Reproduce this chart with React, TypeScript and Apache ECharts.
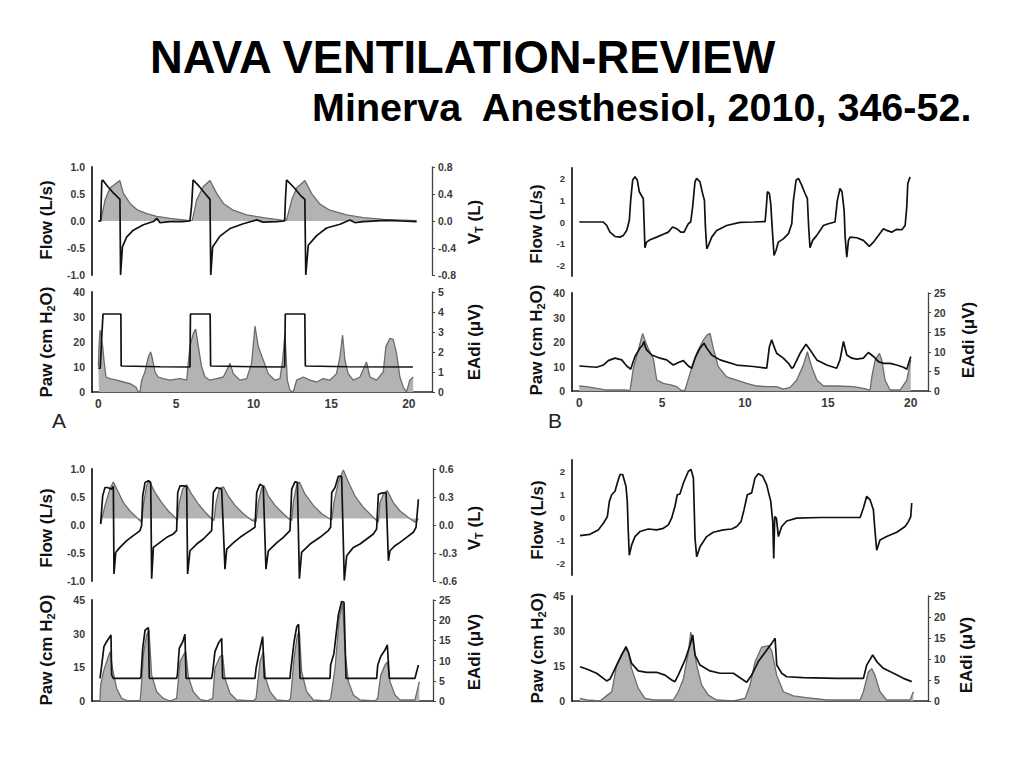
import React, { useEffect, useRef } from "react";
import * as echarts from "echarts";

type P = [number, number][];

// ---------- Panel A (time s) ----------
const aFlow: P = [[0,0],[0.15,0],[0.22,0.74],[0.28,0.76],[0.6,0.64],[1.0,0.51],[1.39,0.40],[1.43,-1.0],[1.55,-0.48],[1.82,-0.3],[2.25,-0.17],[2.9,-0.07],[3.54,-0.01],[3.76,0.05],[3.97,-0.03],[4.6,-0.01],[5.4,-0.01],[5.9,0],[6.01,0.3],[6.1,0.76],[6.5,0.64],[6.9,0.5],[7.19,0.40],[7.24,-1.0],[7.36,-0.48],[7.83,-0.28],[8.48,-0.14],[9.33,-0.05],[10.2,0.02],[10.6,-0.02],[11.5,-0.01],[12.0,0],[12.05,0.4],[12.12,0.76],[12.6,0.62],[13.0,0.48],[13.3,0.40],[13.36,-1.0],[13.52,-0.45],[14.06,-0.27],[14.7,-0.13],[15.56,-0.06],[16.2,0.02],[16.52,-0.03],[17.06,-0.01],[18.5,0.01],[19.5,0],[20.5,-0.01]];
const aVt: P = [[0,0],[0.15,0],[0.43,0.31],[0.75,0.49],[1.38,0.6],[1.61,0.41],[2.04,0.26],[2.47,0.17],[3.11,0.11],[3.76,0.07],[4.61,0.04],[5.9,0.005],[6.05,0.01],[6.33,0.31],[6.76,0.51],[7.19,0.6],[7.62,0.41],[8.05,0.26],[8.69,0.16],[9.55,0.09],[10.62,0.05],[11.9,0.01],[12.12,0.015],[12.45,0.31],[12.77,0.49],[13.3,0.6],[13.73,0.41],[14.27,0.25],[14.91,0.16],[15.99,0.09],[17.06,0.05],[18.35,0.025],[20.5,0.005]];
const aPaw: P = [[0,9.5],[0.12,9.5],[0.2,20],[0.3,31.2],[1.45,31.2],[1.47,10.4],[4,10.1],[5.9,10],[5.93,31.2],[7.2,31.2],[7.23,10.4],[10,10.1],[12.0,10],[12.04,31.2],[13.3,31.2],[13.33,10.4],[16,10.1],[20.26,10]];
const aEadi: P = [[0,1.26],[0.04,2.27],[0.11,3.1],[0.15,3.1],[0.28,2.27],[0.36,1.6],[0.49,0.75],[0.75,0.67],[1.18,0.59],[1.61,0.5],[2.04,0.42],[2.42,0.25],[2.58,0],[2.68,0],[2.79,0.59],[3.0,1.0],[3.22,1.76],[3.37,2.0],[3.5,1.6],[3.65,1.0],[3.86,0.75],[4.18,0.67],[4.61,0.59],[5.26,0.67],[5.69,0.59],[5.79,1.43],[5.9,2.27],[6.12,2.94],[6.27,3.14],[6.44,2.27],[6.65,1.26],[6.87,0.75],[7.19,0.59],[7.62,0.67],[8.05,0.75],[8.48,1.43],[8.69,0.92],[9.12,0.59],[9.55,0.67],[9.87,1.43],[10.09,3.3],[10.3,2.27],[10.62,1.6],[10.94,0.92],[11.37,0.59],[11.7,0.67],[11.87,1.6],[12.02,2.94],[12.17,0.59],[12.34,0.08],[12.55,0],[12.77,0.59],[13.2,0.75],[13.63,0.59],[14.06,0.5],[14.48,0.67],[14.91,0.59],[15.34,0.92],[15.56,1.76],[15.73,2.85],[15.88,1.6],[16.09,0.92],[16.42,0.59],[16.85,0.75],[17.27,1.5],[17.49,0.75],[17.92,0.59],[18.35,1.0],[18.52,2.27],[18.78,2.68],[18.99,2.63],[19.21,1.93],[19.42,0.75],[19.64,0.25],[19.85,0],[20.06,0.59],[20.28,0.75]];

// ---------- Panel B ----------
const bFlow: P = [[0,0],[1.45,0],[1.65,-0.16],[1.85,-0.47],[2.15,-0.67],[2.45,-0.70],[2.66,-0.62],[2.86,-0.39],[3.02,0.08],[3.1,1.0],[3.22,1.94],[3.36,2.09],[3.5,1.94],[3.62,1.4],[3.86,1.09],[3.92,-0.23],[3.96,-1.19],[4.06,-0.93],[4.27,-0.82],[4.67,-0.70],[5.07,-0.57],[5.37,-0.47],[5.63,-0.23],[5.88,-0.31],[6.12,-0.47],[6.32,-0.47],[6.58,-0.08],[6.72,0],[6.84,0.7],[6.98,1.86],[7.08,2.02],[7.28,1.86],[7.44,1.32],[7.55,1.0],[7.61,-0.23],[7.69,-1.24],[7.79,-1.09],[7.99,-0.70],[8.29,-0.39],[8.89,-0.16],[9.7,-0.02],[10.5,0],[11.21,0.02],[11.27,0.54],[11.35,1.40],[11.47,1.32],[11.55,0.85],[11.65,-0.39],[11.75,-1.55],[11.87,-1.32],[12.01,-0.93],[12.31,-0.78],[12.62,-0.54],[12.82,-0.08],[12.92,1.0],[13.08,1.94],[13.22,2.02],[13.42,1.71],[13.62,1.32],[13.76,1.09],[13.84,-0.23],[13.92,-1.19],[14.08,-0.85],[14.33,-0.62],[14.73,-0.16],[15.03,-0.08],[15.43,0],[15.57,1.0],[15.73,1.55],[15.85,1.4],[15.98,0.54],[16.04,-0.70],[16.14,-1.63],[16.24,-0.85],[16.34,-0.70],[16.74,-0.73],[17.14,-0.85],[17.5,-1.13],[17.75,-0.93],[18.05,-0.62],[18.35,-0.31],[18.55,-0.39],[18.85,-0.47],[19.15,-0.34],[19.46,-0.36],[19.66,-0.16],[19.76,0.7],[19.82,1.78],[19.96,2.09]];
const bPaw: P = [[0,10.2],[1.05,9.7],[1.45,10.6],[1.75,12.4],[2.15,13.4],[2.56,12.7],[2.86,10.2],[3.1,8.9],[3.36,14.1],[3.66,17.5],[3.82,18.8],[3.9,20.2],[3.98,18.1],[4.06,16.8],[4.37,14.7],[4.87,13.4],[5.27,12.7],[5.67,10.6],[5.98,11.6],[6.28,12.4],[6.58,10.2],[6.78,9.3],[6.98,13.4],[7.28,17.5],[7.53,19.5],[7.69,17.5],[7.99,14.7],[8.49,12.7],[9.5,10.6],[10.5,10.0],[11.31,9.3],[11.47,18.1],[11.61,20.9],[11.75,18.1],[11.91,15.4],[12.31,13.4],[12.62,11.3],[12.82,9.3],[12.92,9.7],[13.32,15.4],[13.68,19.1],[13.92,16.8],[14.33,12.7],[14.93,10.6],[15.53,9.3],[15.73,12.7],[15.94,20.2],[16.14,14.7],[16.44,13.4],[16.74,13.0],[17.14,13.4],[17.44,15.7],[17.75,14.1],[18.05,12.0],[18.35,11.3],[18.75,11.3],[19.15,10.6],[19.56,9.7],[19.76,8.9],[20.0,14.1]];
const bEadi: P = [[0,1.27],[0.44,1.1],[1.05,0.68],[1.65,0.25],[2.45,0.25],[2.86,0.25],[3.06,0.08],[3.26,5.76],[3.56,10.4],[3.82,14.7],[3.96,13.0],[4.16,10.8],[4.47,8.3],[4.67,2.8],[5.07,1.95],[5.57,1.5],[5.88,1.1],[6.18,0.08],[6.38,0.25],[6.68,4.5],[7.08,9.6],[7.48,13.0],[7.69,14.2],[7.89,14.7],[8.09,10.8],[8.39,6.2],[8.89,3.6],[9.5,2.8],[10.1,1.95],[10.7,1.27],[11.31,1.1],[11.91,1.1],[12.31,0.5],[12.72,0.93],[13.12,2.8],[13.52,6.6],[13.76,10.0],[14.02,6.2],[14.33,2.8],[14.73,1.27],[15.53,1.27],[16.54,1.1],[17.14,0.68],[17.55,0.25],[17.65,3.6],[17.85,7.9],[18.11,9.6],[18.25,7.9],[18.45,2.8],[18.75,0.25],[19.36,0.25],[19.76,2.8],[20.0,7.9]];

// ---------- Panel C ----------
const cFlow: P = [[0.04,0.02],[0.17,0.52],[0.32,0.67],[0.47,0.67],[0.74,0.64],[0.85,0.69],[0.89,-0.875],[1.0,-0.49],[1.27,-0.40],[1.7,-0.28],[2.12,-0.19],[2.55,-0.10],[2.65,-0.01],[2.72,0.52],[2.87,0.76],[3.08,0.79],[3.23,0.76],[3.29,-0.96],[3.4,-0.40],[3.82,-0.31],[4.25,-0.22],[4.67,-0.16],[4.88,-0.10],[4.95,0.58],[5.1,0.70],[5.31,0.70],[5.52,0.69],[5.58,-0.875],[5.73,-0.46],[6.16,-0.34],[6.58,-0.25],[7.11,-0.10],[7.22,0.58],[7.43,0.67],[7.75,0.64],[7.96,-0.79],[8.07,-0.43],[8.49,-0.32],[8.92,-0.22],[9.55,-0.10],[9.87,-0.04],[9.98,0.58],[10.19,0.73],[10.4,0.69],[10.57,-0.79],[10.72,-0.46],[11.25,-0.32],[11.68,-0.22],[12.1,-0.10],[12.21,0.64],[12.42,0.77],[12.57,0.76],[12.7,-0.96],[12.84,-0.49],[13.38,-0.34],[14.01,-0.22],[14.54,-0.10],[14.69,-0.04],[14.76,0.58],[14.97,0.67],[15.18,0.87],[15.39,0.87],[15.56,-0.99],[15.71,-0.55],[16.14,-0.40],[16.56,-0.34],[16.99,-0.25],[17.41,-0.16],[17.62,-0.07],[17.73,0.55],[17.94,0.57],[18.22,0.58],[18.37,-0.64],[18.47,-0.46],[18.79,-0.37],[19.11,-0.31],[19.53,-0.22],[19.96,-0.13],[20.13,-0.04],[20.28,0.46]];
const cVt: P = [[0.04,0.01],[0.32,0.21],[0.64,0.39],[0.85,0.46],[1.17,0.35],[1.49,0.24],[1.91,0.15],[2.34,0.08],[2.65,0.03],[2.76,0.21],[2.97,0.42],[3.12,0.475],[3.5,0.35],[3.93,0.24],[4.35,0.15],[4.78,0.08],[4.93,0.05],[5.05,0.24],[5.27,0.39],[5.52,0.43],[5.84,0.33],[6.26,0.225],[6.69,0.14],[7.11,0.064],[7.26,0.05],[7.39,0.24],[7.6,0.39],[7.86,0.41],[8.17,0.31],[8.6,0.21],[9.13,0.12],[9.66,0.05],[9.94,0.036],[10.08,0.24],[10.3,0.40],[10.45,0.42],[10.72,0.31],[11.15,0.21],[11.68,0.12],[12.1,0.057],[12.21,0.05],[12.31,0.24],[12.53,0.43],[12.7,0.46],[13.06,0.33],[13.59,0.21],[14.12,0.12],[14.65,0.064],[14.76,0.057],[14.9,0.24],[15.18,0.46],[15.5,0.59],[15.82,0.46],[16.24,0.31],[16.77,0.19],[17.3,0.10],[17.73,0.03],[17.83,0.24],[18.05,0.33],[18.3,0.37],[18.68,0.24],[19.11,0.15],[19.64,0.08],[20.06,0.03],[20.28,0.064]];
const cPaw: P = [[0,10.1],[0.11,16.0],[0.25,24.2],[0.42,26.4],[0.64,28.7],[0.7,29.4],[0.74,11.6],[0.85,10.1],[2.55,10.1],[2.61,10.8],[2.72,23.5],[2.87,31.6],[3.08,32.7],[3.14,10.1],[4.88,10.1],[4.93,11.6],[5.05,23.5],[5.27,26.4],[5.41,29.7],[5.48,10.1],[7.11,10.1],[7.18,13.1],[7.32,22.0],[7.54,25.7],[7.75,27.9],[7.81,10.1],[9.87,10.1],[9.94,14.6],[10.15,22.0],[10.36,28.7],[10.47,10.1],[12.1,10.1],[12.14,13.1],[12.36,26.4],[12.53,33.1],[12.65,34.2],[12.74,10.1],[14.65,10.1],[14.69,16.0],[14.9,21.2],[15.18,38.3],[15.39,44.3],[15.54,44.0],[15.67,10.1],[17.62,10.1],[17.69,16.0],[17.88,19.8],[18.15,22.7],[18.3,25.0],[18.43,10.1],[20.06,10.1],[20.28,16.0]];
const cEadi: P = [[0,0],[0.04,4.0],[0.25,7.7],[0.53,11.0],[0.64,12.2],[0.81,7.7],[1.06,3.1],[1.38,0.66],[1.7,0.17],[2.55,0],[2.61,2.3],[2.76,11.4],[2.97,16.3],[3.12,17.6],[3.29,6.4],[3.61,2.3],[4.03,0.66],[4.46,0],[4.88,0.66],[5.1,9.7],[5.31,11.4],[5.46,12.2],[5.63,6.0],[5.94,2.3],[6.37,0.4],[6.79,0],[7.18,0.66],[7.32,8.1],[7.64,11.0],[7.81,11.4],[7.96,5.6],[8.28,1.9],[8.7,0.25],[9.77,0],[9.94,0.66],[10.19,9.7],[10.4,12.2],[10.55,5.6],[10.83,2.3],[11.25,0.25],[12.0,0],[12.14,0.66],[12.36,10.6],[12.57,16.3],[12.7,17.2],[12.84,7.3],[13.16,2.3],[13.59,0.25],[14.54,0],[14.69,0.66],[14.97,8.1],[15.24,20.5],[15.46,24.2],[15.61,12.2],[15.82,4.8],[16.14,1.5],[16.56,0.25],[17.52,0],[17.69,0.66],[17.88,6.4],[18.15,8.9],[18.3,9.7],[18.47,4.8],[18.79,1.5],[19.11,0.25],[20.06,0.25],[20.34,4.8]];

// ---------- Panel D ----------
const dFlow: P = [[0.06,-0.79],[0.66,-0.73],[1.16,-0.54],[1.47,-0.25],[1.71,0.04],[1.83,0.70],[1.97,0.99],[2.17,1.14],[2.31,1.5],[2.47,1.87],[2.63,1.87],[2.83,1.36],[2.91,0.70],[2.97,-0.61],[3.03,-1.64],[3.17,-1.2],[3.37,-0.83],[3.67,-0.61],[4.18,-0.5],[4.68,-0.54],[5.08,-0.47],[5.38,-0.32],[5.58,-0.03],[5.78,0.48],[5.92,0.99],[6.08,1.02],[6.29,1.5],[6.59,2.01],[6.75,2.09],[6.89,1.72],[6.99,-0.91],[7.09,-1.71],[7.29,-1.27],[7.69,-0.83],[8.09,-0.64],[8.69,-0.54],[9.2,-0.5],[9.5,-0.39],[9.76,-0.18],[9.94,0.34],[10.14,0.99],[10.4,1.07],[10.6,1.72],[10.8,1.9],[11.06,1.8],[11.3,1.43],[11.55,0.70],[11.67,-0.18],[11.73,-1.78],[11.79,0.04],[11.89,-0.03],[12.01,-0.83],[12.21,-0.39],[12.51,-0.15],[13.11,-0.03],[14.52,0],[16.93,0],[17.13,0.41],[17.33,0.92],[17.53,0.77],[17.73,0.34],[17.83,-0.61],[17.93,-1.42],[18.13,-0.98],[18.53,-0.83],[19.14,-0.64],[19.64,-0.39],[19.84,-0.18],[19.98,0.04],[20.04,0.63]];
const dPaw: P = [[0.06,14.7],[0.46,13.7],[1.06,11.9],[1.67,8.6],[1.87,9.4],[2.27,15.4],[2.57,19.7],[2.83,23.3],[2.97,21.1],[3.17,16.1],[3.57,12.9],[4.08,12.3],[4.68,12.3],[5.18,11.1],[5.58,9.0],[5.78,8.3],[5.98,11.1],[6.39,17.6],[6.69,24.0],[6.85,28.3],[6.99,19.7],[7.29,15.4],[7.89,12.9],[8.49,11.9],[9.3,11.9],[9.9,9.0],[10.1,8.0],[10.4,11.1],[10.8,16.9],[11.31,21.9],[11.61,24.7],[11.81,26.9],[11.91,15.4],[12.21,11.9],[12.51,10.4],[13.51,10.0],[15.52,9.7],[17.13,9.7],[17.33,15.4],[17.69,19.7],[17.93,16.9],[18.33,14.0],[18.94,11.9],[19.54,9.7],[20.04,8.3]];
const dEadi: P = [[0.06,0.6],[0.46,0.24],[1.27,0],[1.71,1.4],[1.97,2.2],[2.27,8.5],[2.57,11.2],[2.83,12.4],[2.97,11.6],[3.17,7.7],[3.57,3.0],[3.98,0.6],[4.48,0.24],[5.68,0.24],[5.98,2.2],[6.29,5.3],[6.59,11.6],[6.73,16.4],[6.89,13.6],[7.09,8.5],[7.39,3.8],[7.79,1.4],[8.29,0.24],[9.3,0],[10.0,0.6],[10.3,3.8],[10.6,9.3],[11.0,12.8],[11.41,13.2],[11.61,12.0],[11.91,6.1],[12.31,2.2],[12.91,1.2],[13.71,0.8],[14.92,0.24],[16.93,0.24],[17.13,2.2],[17.43,6.9],[17.63,7.7],[17.83,6.1],[18.13,2.2],[18.53,0.24],[19.94,0.24],[20.14,2.2]];

// ---------- tick labels ----------
const flowTicksAC = [-1, -0.5, 0, 0.5, 1];
const vtTicksA = [-0.8, -0.4, 0, 0.4, 0.8];
const vtTicksC = [-0.6, -0.3, 0, 0.3, 0.6];
const flowTicksBD = [-2, -1, 0, 1, 2];
const pawTicks40 = [0, 10, 20, 30, 40];
const pawTicks45 = [0, 15, 30, 45];
const eadiTicks5 = [0, 1, 2, 3, 4, 5];
const eadiTicks25 = [0, 5, 10, 15, 20, 25];
const timeTicks = [0, 5, 10, 15, 20];

const FONT = '"Liberation Sans", Arial, Helvetica, sans-serif';

type AxisSpec = { min: number; max: number; ticks: number[]; dec: number; size?: number };
type LineSpec = { data: P; side: "left" | "right"; kind: "black" | "gray"; origin?: number };
type PanelSpec = {
  rect: { left: number; top: number; width: number; height: number };
  xMin: number; xMax: number;
  xLine: boolean; xLabels?: number[];
  left: AxisSpec; right?: AxisSpec;
  lines: LineSpec[];
};

function buildOption() {
  const grid: any[] = [];
  const xAxis: any[] = [];
  const yAxis: any[] = [];
  const series: any[] = [];

  const panels: PanelSpec[] = [
    { rect: { left: 92, top: 167, width: 340, height: 108 }, xMin: -0.41, xMax: 21.49, xLine: false,
      left: { min: -1, max: 1, ticks: flowTicksAC, dec: 1 }, right: { min: -0.8, max: 0.8, ticks: vtTicksA, dec: 1 },
      lines: [{ data: aVt, side: "right", kind: "gray" }, { data: aFlow, side: "left", kind: "black" }] },
    { rect: { left: 92, top: 292, width: 340, height: 100 }, xMin: -0.41, xMax: 21.49, xLine: true, xLabels: timeTicks,
      left: { min: 0, max: 40, ticks: pawTicks40, dec: 0 }, right: { min: 0, max: 5, ticks: eadiTicks5, dec: 0 },
      lines: [{ data: aEadi, side: "right", kind: "gray" }, { data: aPaw, side: "left", kind: "black" }] },
    { rect: { left: 572, top: 168, width: 356, height: 108 }, xMin: -0.44, xMax: 21.04, xLine: false,
      left: { min: -2.5, max: 2.5, ticks: flowTicksBD, dec: 0, size: 9.5 },
      lines: [{ data: bFlow, side: "left", kind: "black" }] },
    { rect: { left: 572, top: 293, width: 356, height: 98 }, xMin: -0.44, xMax: 21.04, xLine: true, xLabels: timeTicks,
      left: { min: 0, max: 40, ticks: pawTicks40, dec: 0 }, right: { min: 0, max: 25, ticks: eadiTicks25, dec: 0 },
      lines: [{ data: bEadi, side: "right", kind: "gray" }, { data: bPaw, side: "left", kind: "black" }] },
    { rect: { left: 92, top: 469, width: 341, height: 112 }, xMin: -0.51, xMax: 21.21, xLine: false,
      left: { min: -1, max: 1, ticks: flowTicksAC, dec: 1 }, right: { min: -0.6, max: 0.6, ticks: vtTicksC, dec: 1 },
      lines: [{ data: cVt, side: "right", kind: "gray", origin: 0.07 }, { data: cFlow, side: "left", kind: "black" }] },
    { rect: { left: 92, top: 600, width: 341, height: 101 }, xMin: -0.51, xMax: 21.21, xLine: true,
      left: { min: 0, max: 45, ticks: pawTicks45, dec: 0 }, right: { min: 0, max: 25, ticks: eadiTicks25, dec: 0 },
      lines: [{ data: cEadi, side: "right", kind: "gray" }, { data: cPaw, side: "left", kind: "black" }] },
    { rect: { left: 572, top: 460, width: 356, height: 115 }, xMin: -0.42, xMax: 21.02, xLine: false,
      left: { min: -2.5, max: 2.5, ticks: flowTicksBD, dec: 0, size: 9.5 },
      lines: [{ data: dFlow, side: "left", kind: "black" }] },
    { rect: { left: 572, top: 596, width: 356, height: 105 }, xMin: -0.42, xMax: 21.02, xLine: true,
      left: { min: 0, max: 45, ticks: pawTicks45, dec: 0 }, right: { min: 0, max: 25, ticks: eadiTicks25, dec: 0 },
      lines: [{ data: dEadi, side: "right", kind: "gray" }, { data: dPaw, side: "left", kind: "black" }] },
  ];

  const labelStyle = (size: number) => ({
    color: "#3a3a3a", fontSize: size, fontWeight: "bold", fontFamily: FONT,
  });

  panels.forEach((p, gi) => {
    grid.push({ ...p.rect, containLabel: false });
    xAxis.push({
      gridIndex: gi, type: "value", min: p.xMin, max: p.xMax,
      axisLine: { show: p.xLine, onZero: false, lineStyle: { color: "#222", width: 1.6 } },
      axisTick: { show: false },
      axisLabel: p.xLabels
        ? { show: true, customValues: p.xLabels, margin: 6, ...labelStyle(12), formatter: (v: number) => String(v) }
        : { show: false },
      splitLine: { show: false },
    });
    const leftIdx = yAxis.length;
    yAxis.push({
      gridIndex: gi, type: "value", position: "left", min: p.left.min, max: p.left.max,
      axisLine: { show: true, onZero: false, lineStyle: { color: "#222", width: 1.8 } },
      axisTick: { show: false, customValues: p.left.ticks },
      axisLabel: { customValues: p.left.ticks, margin: 7, ...labelStyle(p.left.size || 10.5),
        formatter: ((d: number) => (v: number) => v.toFixed(d))(p.left.dec) },
      splitLine: { show: false },
    });
    let rightIdx = leftIdx;
    if (p.right) {
      rightIdx = yAxis.length;
      yAxis.push({
        gridIndex: gi, type: "value", position: "right", min: p.right.min, max: p.right.max,
        axisLine: { show: true, onZero: false, lineStyle: { color: "#444", width: 1.3 } },
        axisTick: { show: true, customValues: p.right.ticks, length: 3, lineStyle: { color: "#444" } },
        axisLabel: { customValues: p.right.ticks, margin: 6, ...labelStyle(p.right.size || 10.5),
          formatter: ((d: number) => (v: number) => v.toFixed(d))(p.right.dec) },
        splitLine: { show: false },
      });
    }
    p.lines.forEach((l) => {
      const gray = l.kind === "gray";
      series.push({
        type: "line", xAxisIndex: gi, yAxisIndex: l.side === "left" ? leftIdx : rightIdx,
        data: l.data, showSymbol: false, symbol: "none", silent: true, z: gray ? 2 : 3,
        lineStyle: gray ? { color: "#6c6c6c", width: 1.3 } : { color: "#111", width: 1.7 },
        areaStyle: gray ? { color: "#b3b3b3", opacity: 1, origin: l.origin !== undefined ? l.origin : "auto" } : undefined,
      });
    });
  });

  const axisTitle = (text: string, x: number, y: number, rich?: boolean) => ({
    type: "text", x, y, rotation: Math.PI / 2, silent: true,
    style: {
      text, fill: "#111", fontSize: 17, fontWeight: "bold", fontFamily: FONT,
      align: "center", verticalAlign: "middle",
      rich: rich ? { s: { fontSize: 11, fontWeight: "bold", fontFamily: FONT, fill: "#111", verticalAlign: "bottom", padding: [9, 0, 0, 0] } } : undefined,
    },
  });

  const graphic: any[] = [
    { type: "text", x: 150, y: 57, scaleX: 0.975, silent: true,
      style: { text: "NAVA VENTILATION-REVIEW", fill: "#000", fontSize: 46.5, fontWeight: "bold", fontFamily: FONT,
        align: "left", verticalAlign: "middle" } },
    { type: "text", x: 312, y: 107, silent: true,
      style: { text: "Minerva  Anesthesiol, 2010, 346-52.", fill: "#000", fontSize: 39.5, fontWeight: "bold", fontFamily: FONT,
        align: "left", verticalAlign: "middle" } },
    axisTitle("Flow (L/s)", 46, 220),
    axisTitle("Paw (cm H{s|2}O)", 46, 342, true),
    axisTitle("V{s|T} (L)", 474, 222, true),
    axisTitle("EAdi (μV)", 474, 342),
    axisTitle("Flow (L/s)", 536, 224),
    axisTitle("Paw (cm H{s|2}O)", 536, 340, true),
    axisTitle("EAdi (μV)", 968, 340),
    axisTitle("Flow (L/s)", 46, 528),
    axisTitle("Paw (cm H{s|2}O)", 46, 650, true),
    axisTitle("V{s|T} (L)", 474, 528, true),
    axisTitle("EAdi (μV)", 474, 652),
    axisTitle("Flow (L/s)", 537, 520),
    axisTitle("Paw (cm H{s|2}O)", 537, 648, true),
    axisTitle("EAdi (μV)", 966, 655),
    { type: "text", x: 59, y: 420, silent: true,
      style: { text: "A", fill: "#222", fontSize: 21, fontFamily: FONT, align: "center", verticalAlign: "middle" } },
    { type: "text", x: 555, y: 420, silent: true,
      style: { text: "B", fill: "#222", fontSize: 21, fontFamily: FONT, align: "center", verticalAlign: "middle" } },
  ];

  return { animation: false, backgroundColor: "#fff", grid, xAxis, yAxis, series, graphic };
}

export default function App() {
  const ref = useRef<HTMLDivElement>(null);
  useEffect(() => {
    document.body.style.margin = "0";
    if (!ref.current) return;
    const chart = echarts.init(ref.current, undefined, { renderer: "svg" });
    chart.setOption(buildOption() as any);
    return () => chart.dispose();
  }, []);
  return <div ref={ref} style={{ width: 1024, height: 768 }} />;
}
